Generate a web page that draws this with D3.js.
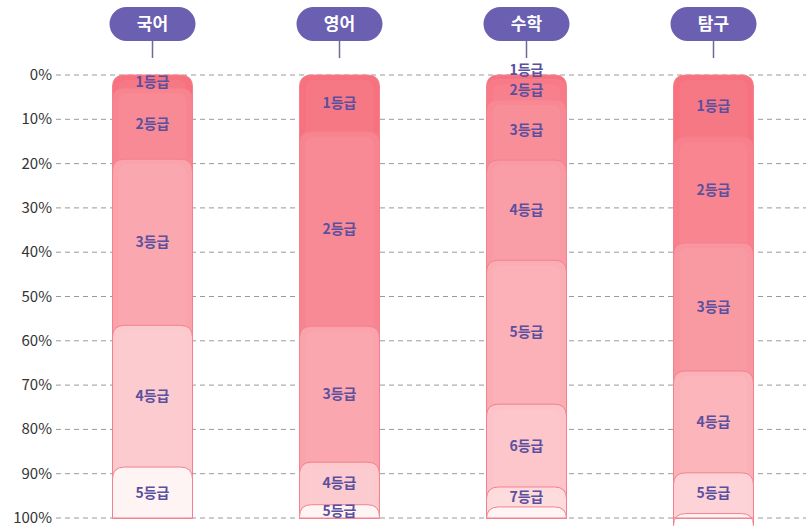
<!DOCTYPE html>
<html>
<head>
<meta charset="utf-8">
<script src="https://cdn.jsdelivr.net/npm/d3@7"></script>
<style>
  body { margin: 0; background: #fff; }
  text { font-family: "Noto Sans CJK KR", "Noto Sans", sans-serif; }
</style>
</head>
<body>
<div id="chart"></div>
<script>
// subjects and grade shares (%) from top to bottom
var subjects = ["국어", "영어", "수학", "탐구"];
var shares = [
  [3, 16, 37.5, 32, 11.5],
  [12.8, 43.9, 30.7, 9.6, 3],
  [1, 4.6, 13.6, 22.6, 32.5, 18.7, 4.5, 2.5],
  [14, 23.9, 28.9, 23, 9.2, 1]
];
var gradeLabels = [
  ["1등급", "2등급", "3등급", "4등급", "5등급"],
  ["1등급", "2등급", "3등급", "4등급", "5등급"],
  ["1등급", "2등급", "3등급", "4등급", "5등급", "6등급", "7등급", ""],
  ["1등급", "2등급", "3등급", "4등급", "5등급", ""]
];
var yTicks = [0, 10, 20, 30, 40, 50, 60, 70, 80, 90, 100];

var width = 806, height = 527;
var barW = 80, r = 12;

var svg = d3.select("#chart").append("svg")
  .attr("width", width)
  .attr("height", height);

var x = d3.scaleBand().domain(subjects).range([59, 807]).padding(0);
var y = d3.scaleLinear().domain([0, 100]).range([75, 518]);

var deep = d3.color("#f7717f"), light = d3.color("#fff4f4");
function segColor(i, n) {
  var t = Math.pow(i / (n - 1), 1.4);
  return d3.interpolateRgb(deep, light)(t);
}

// grid + axis labels
svg.selectAll(".grid")
  .data(yTicks)
  .enter().append("line")
  .attr("x1", 56).attr("x2", width)
  .attr("y1", d => y(d)).attr("y2", d => y(d))
  .attr("stroke", "#9a9a9a")
  .attr("stroke-width", 1)
  .attr("stroke-dasharray", "5,4");

svg.selectAll(".ylab")
  .data(yTicks)
  .enter().append("text")
  .attr("x", 52)
  .attr("y", d => y(d) + 5)
  .attr("text-anchor", "end")
  .attr("font-size", "15px")
  .attr("fill", "#333")
  .text(d => d + "%");

function topRounded(x0, y0, w, y1, rr) {
  return "M" + x0 + "," + y1 +
    "V" + (y0 + rr) +
    "Q" + x0 + "," + y0 + " " + (x0 + rr) + "," + y0 +
    "H" + (x0 + w - rr) +
    "Q" + (x0 + w) + "," + y0 + " " + (x0 + w) + "," + (y0 + rr) +
    "V" + y1 + "Z";
}

subjects.forEach(function(s, si) {
  var cx = x(s) + x.bandwidth() / 2;
  var bx = cx - barW / 2;
  var vals = shares[si];
  var n = vals.length;
  var cum = 0;
  var segs = vals.map(function(v, i) {
    var seg = { start: cum, end: cum + v, i: i, label: gradeLabels[si][i] };
    cum += v;
    return seg;
  });

  var g = svg.append("g");

  segs.forEach(function(d) {
    var col = segColor(d.i, n);
    g.append("path")
      .attr("d", topRounded(bx, y(d.start), barW, y(100), r))
      .attr("fill", col)
      .attr("stroke", "#f2808e")
      .attr("stroke-width", 1);
    g.append("path")
      .attr("d", topRounded(bx + 6, y(d.start) + 5, barW - 12, y(100), 9))
      .attr("fill", "#fff")
      .attr("opacity", 0.05);
  });

  // label positions: midpoint, pushed up if crowded
  var pos = segs.map(d => (y(d.start) + y(d.end)) / 2);
  for (var k = n - 2; k >= 0; k--) {
    if (segs[k + 1].label && pos[k + 1] - pos[k] < 20) pos[k] = pos[k + 1] - 20;
  }

  g.selectAll(".glab")
    .data(segs.filter(d => d.label))
    .enter().append("text")
    .attr("x", cx)
    .attr("y", d => pos[d.i] + 5)
    .attr("text-anchor", "middle")
    .attr("font-size", "14px")
    .attr("font-weight", "bold")
    .attr("fill", "#5b4f9f")
    .text(d => d.label);

  // subject pill
  svg.append("line")
    .attr("x1", cx).attr("x2", cx)
    .attr("y1", 40).attr("y2", 58)
    .attr("stroke", "#6b6b9b")
    .attr("stroke-width", 1.5);
  svg.append("rect")
    .attr("x", cx - 43).attr("y", 7)
    .attr("width", 86).attr("height", 34)
    .attr("rx", 17)
    .attr("fill", "#6a5fb1");
  svg.append("text")
    .attr("x", cx).attr("y", 30)
    .attr("text-anchor", "middle")
    .attr("font-size", "17px")
    .attr("font-weight", "bold")
    .attr("fill", "#fff")
    .text(s);
});
</script>
</body>
</html>
